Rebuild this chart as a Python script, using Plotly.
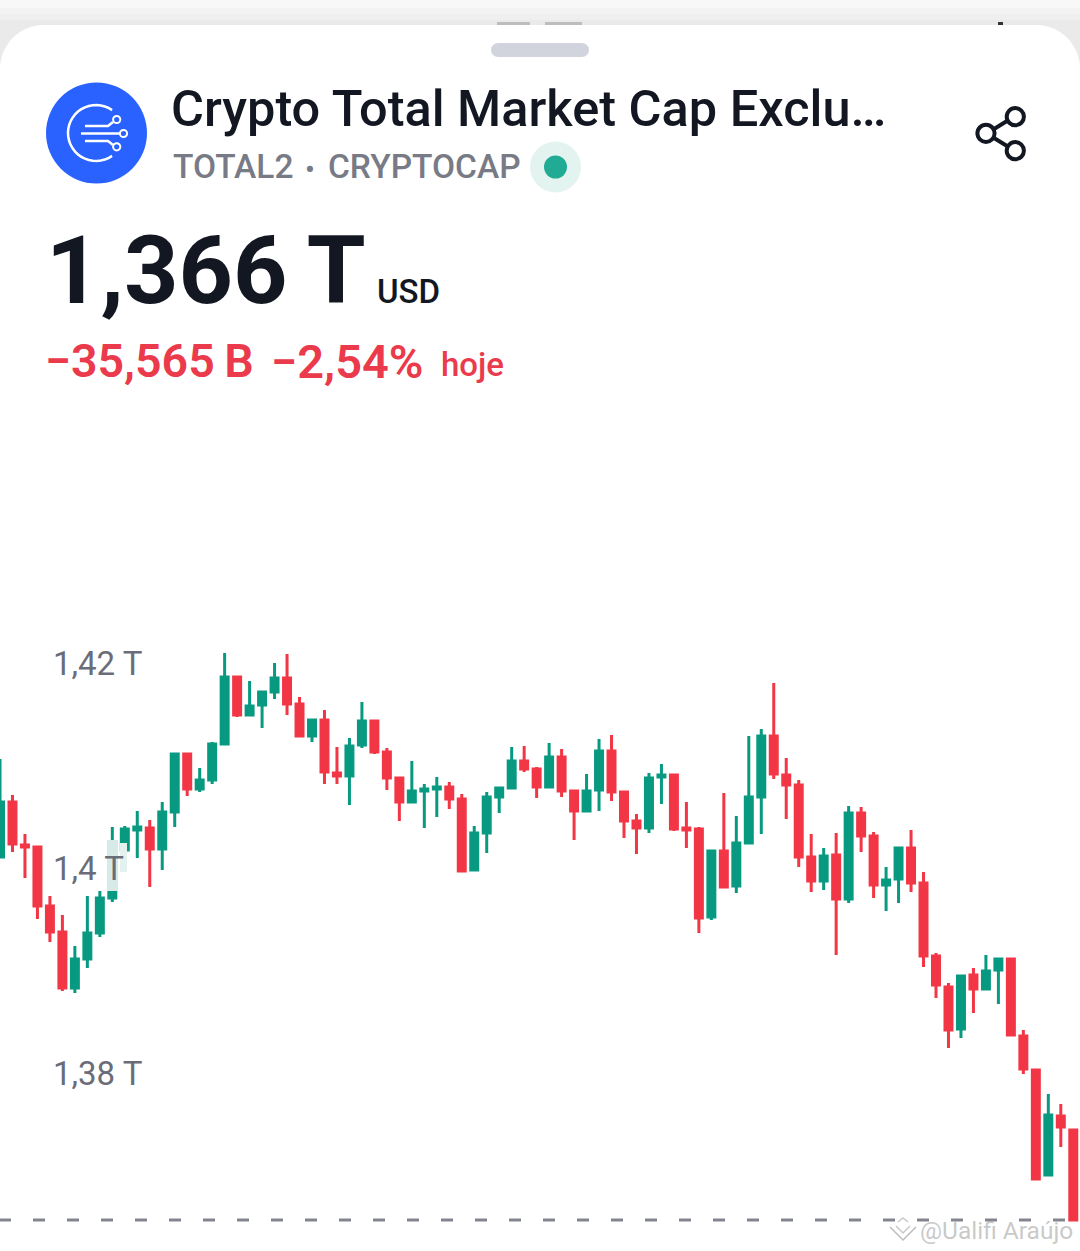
# candlestick chart of TOTAL2 in a phone card layout
import math
import plotly.graph_objects as go

# one candle per index, values in trillions of USD
candle_open = [
    1.40107, 1.40644, 1.40224, 1.40205, 1.39629, 1.39376, 1.38829, 1.39112, 1.39366, 1.39707,
    1.40176, 1.40371, 1.40390, 1.40185, 1.40546, 1.41112, 1.40771, 1.40859, 1.41210, 1.41863,
    1.41493, 1.41590, 1.41717, 1.41854, 1.41600, 1.41288, 1.41444, 1.40927, 1.40898, 1.41200,
    1.41434, 1.41132, 1.40878, 1.40644, 1.40751, 1.40771, 1.40790, 1.40673, 1.39981, 1.40341,
    1.40693, 1.40780, 1.41044, 1.40966, 1.40790, 1.41083, 1.40751, 1.40556, 1.40761, 1.41141,
    1.40741, 1.40459, 1.40390, 1.40888, 1.40907, 1.40390, 1.40381, 1.39522, 1.40166, 1.39824,
    1.40244, 1.40693, 1.41288, 1.40907, 1.40810, 1.40107, 1.39873, 1.40127, 1.39698, 1.40537,
    1.40312, 1.39834, 1.39893, 1.40195, 1.39854, 1.39141, 1.38839, 1.38429, 1.38956, 1.38820,
    1.39005, 1.39112, 1.38361, 1.38029, 1.37005, 1.37580, 1.37444,
]
candle_high = [
    1.41063, 1.40712, 1.40332, 1.40215, 1.39727, 1.39541, 1.39239, 1.39727, 1.39776, 1.40400,
    1.40410, 1.40556, 1.40468, 1.40644, 1.41112, 1.41112, 1.40976, 1.41229, 1.42098, 1.41863,
    1.41824, 1.41717, 1.42000, 1.42088, 1.41668, 1.41454, 1.41541, 1.41180, 1.41268, 1.41620,
    1.41444, 1.41171, 1.40888, 1.41044, 1.40820, 1.40888, 1.40839, 1.40722, 1.40410, 1.40741,
    1.40780, 1.41180, 1.41190, 1.40985, 1.41220, 1.41161, 1.40751, 1.40917, 1.41259, 1.41298,
    1.40741, 1.40527, 1.40927, 1.41015, 1.40907, 1.40644, 1.40400, 1.40166, 1.40732, 1.40507,
    1.41288, 1.41356, 1.41805, 1.41073, 1.40859, 1.40332, 1.40195, 1.40341, 1.40605, 1.40595,
    1.40351, 1.40010, 1.40195, 1.40371, 1.39961, 1.39171, 1.38878, 1.38946, 1.39024, 1.39151,
    1.39112, 1.39112, 1.38420, 1.38029, 1.37795, 1.37698, 1.37444,
]
candle_low = [
    1.40107, 1.40156, 1.39902, 1.39502, 1.39278, 1.38800, 1.38781, 1.39024, 1.39327, 1.39668,
    1.39961, 1.40098, 1.39815, 1.39981, 1.40400, 1.40702, 1.40741, 1.40820, 1.41210, 1.41473,
    1.41493, 1.41366, 1.41649, 1.41493, 1.41288, 1.41229, 1.40820, 1.40820, 1.40615, 1.41171,
    1.41112, 1.40761, 1.40459, 1.40644, 1.40390, 1.40498, 1.40576, 1.39961, 1.39981, 1.40146,
    1.40537, 1.40780, 1.40937, 1.40683, 1.40790, 1.40693, 1.40273, 1.40556, 1.40556, 1.40654,
    1.40293, 1.40137, 1.40341, 1.40624, 1.40361, 1.40195, 1.39366, 1.39493, 1.39815, 1.39756,
    1.40244, 1.40332, 1.40868, 1.40478, 1.40010, 1.39766, 1.39785, 1.39151, 1.39659, 1.40156,
    1.39707, 1.39581, 1.39659, 1.39766, 1.39034, 1.38732, 1.38244, 1.38341, 1.38585, 1.38810,
    1.38673, 1.38371, 1.37990, 1.36966, 1.37005, 1.37278, 1.36566,
]
candle_close = [
    1.40644, 1.40234, 1.40205, 1.39629, 1.39376, 1.38829, 1.39112, 1.39366, 1.39707, 1.39776,
    1.40381, 1.40400, 1.40185, 1.40546, 1.41112, 1.40771, 1.40859, 1.41210, 1.41863, 1.41493,
    1.41580, 1.41717, 1.41854, 1.41600, 1.41288, 1.41444, 1.40937, 1.40898, 1.41190, 1.41434,
    1.41132, 1.40878, 1.40644, 1.40751, 1.40771, 1.40790, 1.40673, 1.39971, 1.40341, 1.40693,
    1.40780, 1.41044, 1.40966, 1.40790, 1.41083, 1.40751, 1.40556, 1.40751, 1.41141, 1.40741,
    1.40459, 1.40390, 1.40878, 1.40907, 1.40381, 1.40371, 1.39512, 1.40166, 1.39815, 1.40244,
    1.40693, 1.41288, 1.40917, 1.40810, 1.40107, 1.39873, 1.40117, 1.39698, 1.40537, 1.40312,
    1.39834, 1.39883, 1.40195, 1.39854, 1.39141, 1.38859, 1.38420, 1.38946, 1.38820, 1.38995,
    1.39112, 1.38371, 1.38039, 1.36966, 1.37590, 1.37473, 1.36566,
]
candle_x = list(range(len(candle_open)))

tick_vals = [1.38, 1.4, 1.42]
tick_text = ['1,38 T', '1,4 T', '1,42 T']
last_price = 1.36566

W = 1080
H = 1251
GREEN = '#089981'
RED = '#F23645'
RED_TEXT = '#EA3A4B'
DARK = '#131722'
GREY = '#787B86'

# pixel helpers for the card furniture
def px(x):
    return x / W

def py(y):
    return 1 - y / H

def rect(x0, y0, x1, y1, color, layer='below'):
    return dict(type='rect', xref='paper', yref='paper', x0=px(x0), x1=px(x1), y0=py(y1), y1=py(y0),
                fillcolor=color, line_width=0, layer=layer)

def circle(cx, cy, r, fill='rgba(0,0,0,0)', line_color=None, line_width=0):
    return dict(type='circle', xref='paper', yref='paper', x0=px(cx - r), x1=px(cx + r), y0=py(cy + r), y1=py(cy - r),
                fillcolor=fill, line=dict(color=line_color, width=line_width), layer='above')

def poly(points, color, width=2.5, fill='rgba(0,0,0,0)', close=False, layer='above'):
    d = 'M ' + ' L '.join(f'{px(x):.5f},{py(y):.5f}' for x, y in points)
    if close:
        d += ' Z'
    return dict(type='path', xref='paper', yref='paper', path=d, fillcolor=fill,
                line=dict(color=color, width=width), layer=layer)

def arc_points(cx, cy, r, a0, a1, n=30):
    return [(cx + r * math.cos(math.radians(a0 + (a1 - a0) * k / n)),
             cy + r * math.sin(math.radians(a0 + (a1 - a0) * k / n))) for k in range(n + 1)]

def label(x, y, text, size, color, weight=400, anchor='left', family='Roboto'):
    return dict(xref='paper', yref='paper', x=px(x), y=py(y), text=text, showarrow=False, xanchor=anchor,
                yanchor='middle', borderpad=0, font=dict(size=size, color=color, family=family, weight=weight))

card = (arc_points(44, 69, 44, 180, 270) + arc_points(1036, 69, 44, 270, 360)
        + [(1080, 1251), (0, 1251)])

shapes = [
    rect(0, 8, 1080, 14, '#F3F3F3'),
    rect(0, 14, 1080, 20, '#EFEFEF'),
    rect(0, 20, 1080, 70, '#EAEAEA'),
    poly(card, 'white', width=0, fill='white', close=True, layer='below'),
    rect(497, 22, 530, 25, '#BDBDBD'),
    rect(545, 22, 582, 25, '#BDBDBD'),
    rect(998, 22, 1003, 25, '#333333'),
    # drag handle
    dict(type='path', xref='paper', yref='paper', fillcolor='#D1D4DC', line_width=0, layer='below',
         path='M ' + ' L '.join(f'{px(x):.5f},{py(y):.5f}' for x, y in
                                arc_points(498, 50, 7, 90, 270, 8) + arc_points(582, 50, 7, 270, 450, 8)) + ' Z'),
    # logo
    circle(96.5, 133, 50.5, fill='#2962FF', line_color='#2962FF', line_width=0),
    poly(arc_points(96, 133, 28, -55, -305), 'white', 2.5),
    poly([(85, 126), (108, 126), (113, 122)], 'white', 2.5),
    poly([(81, 133.5), (120, 133.5)], 'white', 2.5),
    poly([(85, 141), (108, 141), (113, 145)], 'white', 2.5),
    circle(116.7, 119.5, 3.6, line_color='white', line_width=2),
    circle(123.5, 133.5, 3.6, line_color='white', line_width=2),
    circle(116.7, 146.8, 3.6, line_color='white', line_width=2),
    # live dot
    circle(555.5, 167, 25.5, fill='#E3F3F0', line_color='#E3F3F0'),
    circle(555.5, 167, 11.5, fill='#22AB94', line_color='#22AB94'),
    # share icon
    poly([(994, 129), (1007, 121)], DARK, 4),
    poly([(994, 138), (1007, 146)], DARK, 4),
    circle(1015.3, 116.7, 8.6, line_color=DARK, line_width=4),
    circle(986, 133.3, 8.6, line_color=DARK, line_width=4),
    circle(1015.3, 150.7, 8.6, line_color=DARK, line_width=4),
    # last price line
    dict(type='line', xref='paper', yref='y', x0=px(-1), x1=1, y0=last_price, y1=last_price, layer='above',
         line=dict(color='#83858E', width=3, dash='12px,22px')),
    # pale highlight left over the 1,4 T label
    rect(107, 840, 118, 891, '#D6EBE7', 'above'),
    rect(120, 843, 127, 872, '#E4F2EF', 'above'),
    # watermark mark
    poly([(890, 1227), (903, 1240), (916, 1227)], '#BDBDBD', 1.5),
    poly([(896, 1226), (903, 1233), (910, 1226)], '#C9C9C9', 1.5),
    poly([(898, 1222), (903, 1218), (908, 1222)], '#C9C9C9', 1.5),
]

annotations = [
    label(170, 109, 'Crypto Total Market Cap Exclu…', 50.5, DARK, 500),
    label(172, 167, 'TOTAL2', 33.5, GREY, 500),
    label(310, 169, '•', 28, GREY, 500, 'center'),
    label(327, 167, 'CRYPTOCAP', 33.5, GREY, 500),
    label(45, 270, '1,366\u2009T', 95, DARK, 700),
    label(376, 292, 'USD', 33, DARK, 500),
    label(44, 361, '−35,565\u2009B', 46.5, RED_TEXT, 600),
    label(270, 361, '−2,54%', 47, RED_TEXT, 600),
    label(440, 364, 'hoje', 33, RED_TEXT, 500),
    label(919, 1230, '@Ualifi Araújo', 24.5, 'rgba(165,165,165,0.6)'),
]
# price labels go above the pale highlight, so they are annotations on the y axis
for val, txt in zip(tick_vals, tick_text):
    annotations.append(dict(xref='paper', yref='y', x=px(50.5), y=val, text=txt, showarrow=False, xanchor='left',
                            yanchor='middle', font=dict(family='Roboto', size=33, color='#6A6D78')))

fig = go.Figure(go.Candlestick(
    x=candle_x,
    open=candle_open,
    high=candle_high,
    low=candle_low,
    close=candle_close,
    increasing=dict(line=dict(color=GREEN, width=3), fillcolor=GREEN),
    decreasing=dict(line=dict(color=RED, width=3), fillcolor=RED),
    hoverinfo='skip',
))

fig.update_layout(
    width=W,
    height=H,
    margin=dict(l=0, r=0, t=0, b=0),
    paper_bgcolor='#F8F8F8',
    plot_bgcolor='rgba(0,0,0,0)',
    showlegend=False,
    boxgap=0.44,
    boxgroupgap=0,
    shapes=shapes,
    annotations=annotations,
    xaxis=dict(range=[0, W / 12.48], visible=False, rangeslider=dict(visible=False), fixedrange=True),
    yaxis=dict(
        range=[1.42 - (H - 663) / 10250, 1.42 + 663 / 10250],
        showticklabels=False,
        showgrid=False,
        zeroline=False,
        showline=False,
        ticks='',
        fixedrange=True,
    ),
)

fig.write_html('out.html', post_script="document.body.style.margin='0';", config=dict(displayModeBar=False))
